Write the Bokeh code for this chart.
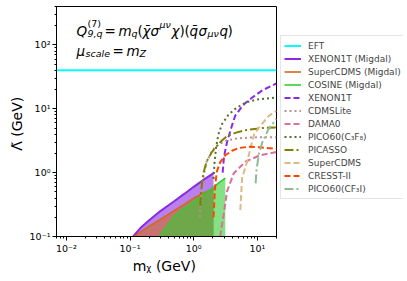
from bokeh.plotting import figure
from bokeh.layouts import row
from bokeh.models import Legend, LegendItem, Label, FixedTicker, CustomJSTickFormatter
from bokeh.embed import file_html
from bokeh.resources import INLINE

# ---------------- data ----------------
X_MIN, X_MAX = 0.007, 20.0
Y_MIN, Y_MAX = 0.1, 400.0

eft_mass = [X_MIN, X_MAX]
eft_lambda = [40.0, 40.0]

xenon1t_migdal_mass = [0.112, 0.15, 0.2, 0.3, 0.5, 0.7, 1.0, 1.5, 2.05]
xenon1t_migdal_lambda = [0.1, 0.14, 0.18, 0.25, 0.36, 0.46, 0.60, 0.80, 0.98]

supercdms_migdal_mass = [0.118, 0.15, 0.2, 0.3, 0.5, 0.7, 1.0, 1.5, 2.05]
supercdms_migdal_lambda = [0.1, 0.12, 0.145, 0.185, 0.255, 0.315, 0.40, 0.49, 0.56]

cosine_migdal_mass = [0.285, 0.35, 0.42, 0.5, 0.65, 0.8, 1.0, 1.5, 2.0, 2.5, 3.14]
cosine_migdal_lambda = [0.1, 0.13, 0.165, 0.21, 0.26, 0.3, 0.35, 0.47, 0.58, 0.7, 0.82]

xenon1t_mass = [2.85, 3.0, 3.34, 4.0, 4.5, 6.0, 8.3, 12.0, 20.0]
xenon1t_lambda = [1.0, 1.8, 3.0, 5.5, 7.8, 11.5, 15.0, 19.5, 25.0]

cdmslite_mass = [1.25, 1.3, 1.4, 1.6, 2.0, 2.5, 3.3, 5.0, 8.0, 12.0, 20.0]
cdmslite_lambda = [0.2, 0.4, 0.8, 1.5, 2.3, 2.8, 3.2, 3.45, 3.55, 3.6, 3.6]

dama0_mass = [2.6, 2.96, 3.34, 4.27, 6.5, 10.8, 20.0]
dama0_lambda = [0.1, 0.22, 0.51, 0.98, 1.48, 1.86, 2.1]

pico60_c3f8_mass = [2.05, 2.12, 2.25, 2.45, 2.8, 3.5, 4.5, 6.5, 10.0, 20.0]
pico60_c3f8_lambda = [0.8, 1.4, 2.5, 4.0, 5.8, 8.0, 10.0, 12.5, 14.0, 15.0]

picasso_mass = [1.27, 1.3, 1.42, 1.6, 1.93, 2.3, 2.78, 3.3, 4.5, 6.0, 8.3, 12.0, 20.0]
picasso_lambda = [0.3, 0.5, 0.98, 1.5, 2.1, 2.6, 3.2, 3.7, 4.2, 4.55, 4.8, 5.0, 5.1]

supercdms_mass = [5.4, 5.6, 5.76, 6.9, 7.8, 8.9, 10.6, 15.3, 20.0]
supercdms_lambda = [0.26, 0.5, 0.82, 1.48, 2.4, 4.0, 5.1, 7.8, 9.3]

cresst_mass = [2.05, 2.12, 2.2, 2.32, 2.6, 3.14, 4.0, 5.1, 7.5, 11.0, 20.0]
cresst_lambda = [0.2, 0.4, 0.7, 1.05, 1.45, 1.87, 2.2, 2.43, 2.55, 2.5, 2.35]

pico60_cf3i_mass = [9.4, 9.7, 10.6, 12.0, 15.0, 20.0]
pico60_cf3i_lambda = [0.68, 1.1, 2.0, 3.0, 4.8, 7.0]

legend_labels = ["EFT", "XENON1T (Migdal)", "SuperCDMS (Migdal)", "COSINE (Migdal)",
                 "XENON1T", "CDMSLite", "DAMA0", "PICO60(C\u2083F\u2088)", "PICASSO",
                 "SuperCDMS", "CRESST-II", "PICO60(CF\u2083I)"]

x_major = [0.01, 0.1, 1, 10]
y_major = [0.1, 1, 10, 100]
minor_ticks = [m * 10.0 ** e for e in range(-3, 3) for m in range(2, 10)]

FONT = "DejaVu Sans"
TOP, BOTTOM = 6, 37

# ---------------- main figure ----------------
p = figure(width=277, height=276, x_axis_type="log", y_axis_type="log",
           x_range=(X_MIN, X_MAX), y_range=(Y_MIN, Y_MAX),
           output_backend="svg", toolbar_location=None,
           min_border_left=56, min_border_right=1, min_border_top=TOP, min_border_bottom=BOTTOM)
p.xgrid.visible = False
p.ygrid.visible = False
p.outline_line_color = "black"
p.outline_line_width = 1
p.background_fill_color = "white"
p.border_fill_color = "white"

fmt = CustomJSTickFormatter(code="""
const e = Math.round(Math.log10(tick));
const m = {"-": "\\u207b", "0": "\\u2070", "1": "\\u00b9", "2": "\\u00b2", "3": "\\u00b3"};
let s = "";
for (const c of String(e)) s += m[c];
return "10" + s;
""")
for ax, majors in ((p.xaxis[0], x_major), (p.yaxis[0], y_major)):
    ax.ticker = FixedTicker(ticks=majors, minor_ticks=minor_ticks)
    ax.formatter = fmt
    ax.major_tick_out = 4
    ax.major_tick_in = 0
    ax.minor_tick_out = 2
    ax.minor_tick_in = 0
    ax.axis_line_color = "black"
    ax.major_tick_line_color = "black"
    ax.minor_tick_line_color = "black"
    ax.major_label_text_font = FONT
    ax.major_label_text_font_size = "9.5px"
    ax.major_label_text_color = "black"
    ax.major_label_standoff = 2
    ax.axis_label_text_font = FONT
    ax.axis_label_text_font_size = "14px"
    ax.axis_label_text_font_style = "normal"
    ax.axis_label_text_color = "black"

p.yaxis[0].axis_label = "\u039b\u0303  (GeV)"
p.yaxis[0].axis_label_standoff = 2
p.xaxis[0].axis_label = "m\u1d6a  (GeV)"
p.xaxis[0].axis_label_standoff = 1

# ---------------- fills ----------------
FILL_ALPHA = 0.6
p.varea(x=xenon1t_migdal_mass, y1=Y_MIN, y2=xenon1t_migdal_lambda, fill_color="blueviolet", fill_alpha=FILL_ALPHA)
p.varea(x=supercdms_migdal_mass, y1=Y_MIN, y2=supercdms_migdal_lambda, fill_color="chocolate", fill_alpha=FILL_ALPHA)
p.varea(x=cosine_migdal_mass, y1=Y_MIN, y2=cosine_migdal_lambda, fill_color="limegreen", fill_alpha=FILL_ALPHA)

# ---------------- lines ----------------
styles = [
    dict(line_color="cyan", line_width=2),
    dict(line_color="blueviolet", line_width=2),
    dict(line_color="chocolate", line_width=1.6),
    dict(line_color="limegreen", line_width=1.6),
    dict(line_color="blueviolet", line_width=2, line_dash="6 3"),
    dict(line_color="rosybrown", line_width=2, line_dash="2 3"),
    dict(line_color="palevioletred", line_width=2, line_dash="6 3"),
    dict(line_color="darkolivegreen", line_width=2, line_dash="2 3"),
    dict(line_color="olive", line_width=2, line_dash="9 3 2 3"),
    dict(line_color="burlywood", line_width=2, line_dash="6 3"),
    dict(line_color="orangered", line_width=2, line_dash="6 3"),
    dict(line_color="darkseagreen", line_width=2, line_dash="9 3 2 3"),
]
series = [
    (eft_mass, eft_lambda),
    (xenon1t_migdal_mass, xenon1t_migdal_lambda),
    (supercdms_migdal_mass, supercdms_migdal_lambda),
    (cosine_migdal_mass, cosine_migdal_lambda),
    (xenon1t_mass, xenon1t_lambda),
    (cdmslite_mass, cdmslite_lambda),
    (dama0_mass, dama0_lambda),
    (pico60_c3f8_mass, pico60_c3f8_lambda),
    (picasso_mass, picasso_lambda),
    (supercdms_mass, supercdms_lambda),
    (cresst_mass, cresst_lambda),
    (pico60_cf3i_mass, pico60_cf3i_lambda),
]
for (xs, ys), st in zip(series, styles):
    p.line(xs, ys, **st)

# ---------------- texts inside the axes ----------------
FL, FB = 56, 239  # frame left / bottom on the page

def put(text, px, py, size, style="italic"):
    p.add_layout(Label(x=px - FL, y=FB - py, x_units="screen", y_units="screen", text=text,
                       text_font=FONT, text_font_size=f"{size}px", text_font_style=style,
                       text_color="black", text_align="left", text_baseline="alphabetic"))

BIG, SMALL = 13.5, 9.5
row1, row2 = 33, 53
put("Q", 76, row1, BIG)
put("(7)", 87, row1 - 7, SMALL, "normal")
put("9,q", 87, row1 + 3, SMALL)
put("=", 104, row1, BIG, "normal")
put("m", 118, row1, BIG)
put("q", 131, row1 + 3, SMALL)
put("(", 137, row1, BIG, "normal")
put("\u03c7\u0304", 142, row1, BIG)
put("\u03c3", 150, row1, BIG)
put("\u03bc\u03bd", 159, row1 - 6, SMALL)
put("\u03c7", 171, row1, BIG)
put(")", 179, row1, BIG, "normal")
put("(", 184, row1, BIG, "normal")
put("q\u0304", 189, row1, BIG)
put("\u03c3", 198, row1, BIG)
put("\u03bc\u03bd", 207, row1 + 3, SMALL)
put("q", 219, row1, BIG)
put(")", 227, row1, BIG, "normal")

put("\u03bc", 76, row2, BIG)
put("scale", 85, row2 + 3, SMALL)
put("=", 112, row2, BIG, "normal")
put("m", 126, row2, BIG)
put("Z", 139, row2 + 3, SMALL)

# ---------------- legend panel (separate figure to the right) ----------------
# its ranges lie outside every series, so the handle lines only feed the legend
lf = figure(width=126, height=276, x_range=(-2, -1), y_range=(-2, -1),
            output_backend="svg", toolbar_location=None,
            min_border_left=0, min_border_right=0, min_border_top=TOP, min_border_bottom=BOTTOM,
            x_axis_location=None, y_axis_location=None)
lf.xgrid.visible = False
lf.ygrid.visible = False
lf.outline_line_color = None
lf.background_fill_color = "white"
lf.border_fill_color = "white"
handles = [lf.line(xs, ys, **st) for (xs, ys), st in zip(series, styles)]

legend = Legend(items=[LegendItem(label=l, renderers=[h]) for l, h in zip(legend_labels, handles)],
                location=(3, FB - 202), margin=0, padding=3, spacing=0,
                glyph_width=17, glyph_height=13, label_height=13, label_standoff=7,
                label_text_font=FONT, label_text_font_size="9px",
                border_line_color="#cccccc", border_line_width=1,
                background_fill_color="white", background_fill_alpha=0.8)
lf.add_layout(legend, "center")

layout = row(p, lf)
open("out.html", "w").write(file_html(layout, INLINE))
